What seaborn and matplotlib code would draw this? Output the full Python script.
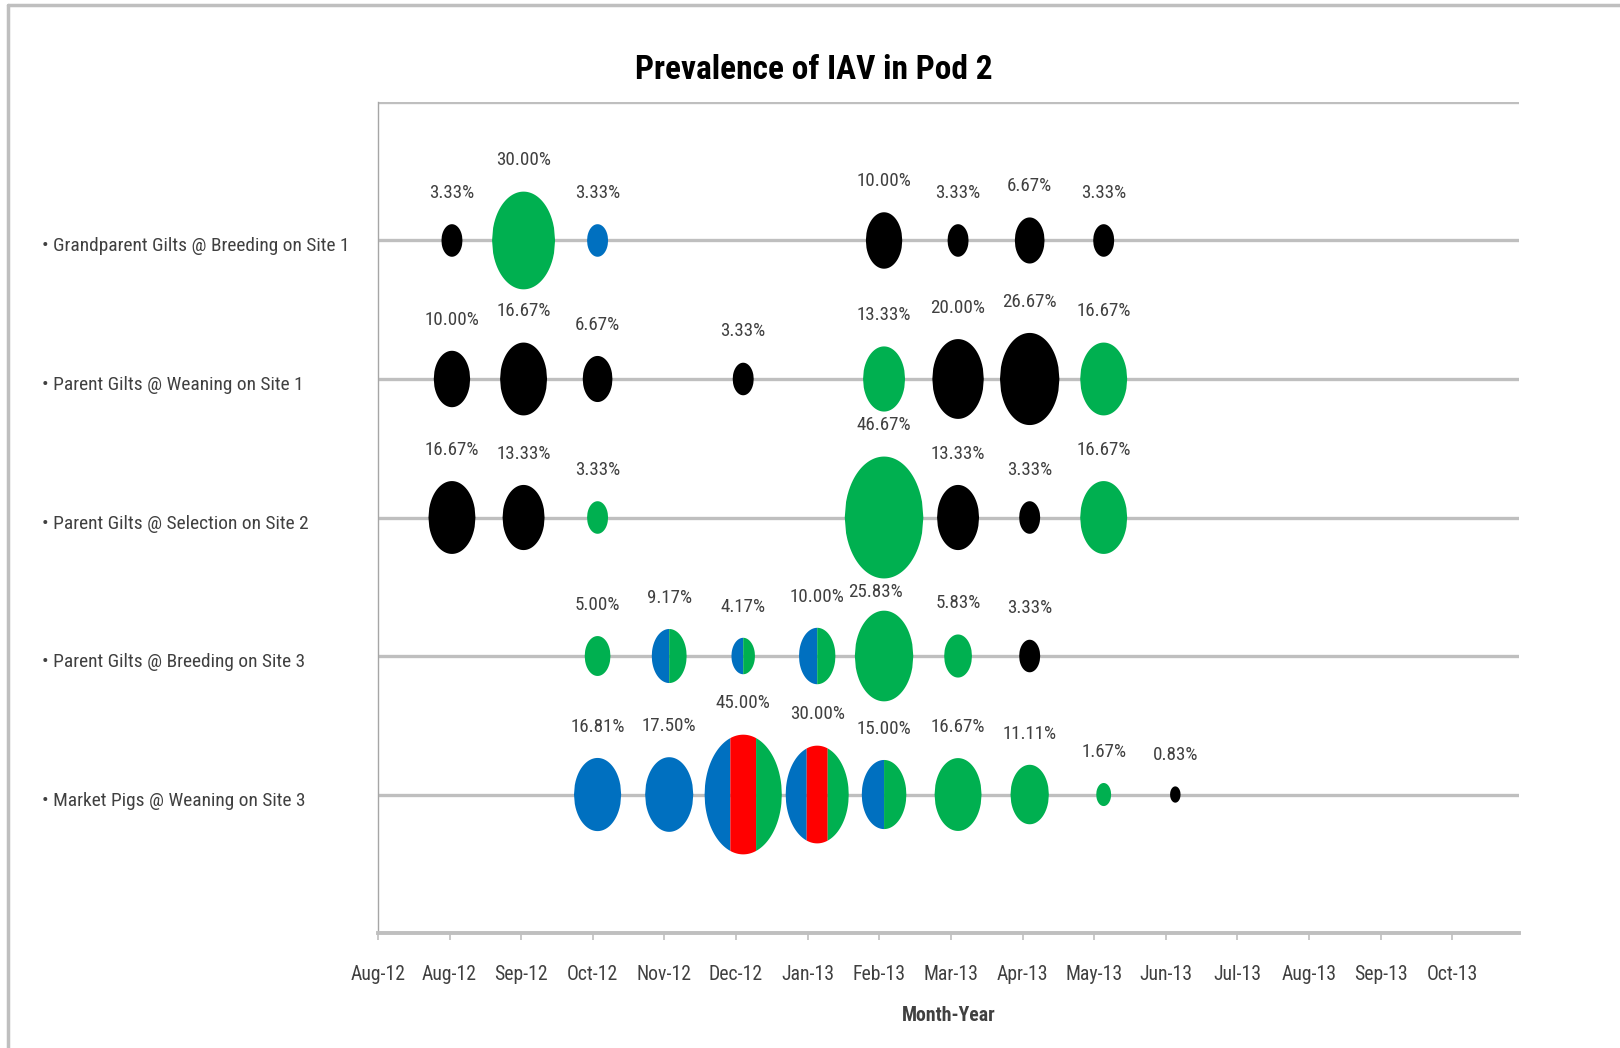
import matplotlib
matplotlib.use('Agg')
import matplotlib.pyplot as plt
import matplotlib.dates as mdates
import matplotlib.transforms as mtransforms
from matplotlib import font_manager
from matplotlib.markers import MarkerStyle
from matplotlib.path import Path
from matplotlib.lines import Line2D
import seaborn as sns
import pandas as pd
import numpy as np

# rows, top to bottom
row_names = ['Grandparent Gilts @ Breeding on Site 1',
             'Parent Gilts @ Weaning on Site 1',
             'Parent Gilts @ Selection on Site 2',
             'Parent Gilts @ Breeding on Site 3',
             'Market Pigs @ Weaning on Site 3']

# sampling dates (first of month), prevalence (%), colour code per bubble
# k = black, g = green, b = blue, r = red ; several letters = split bubble
gp_b1_dates = ['2012-09-01', '2012-10-01', '2012-11-01', '2013-03-01', '2013-04-01', '2013-05-01', '2013-06-01']
gp_b1_prev = [3.33, 30.00, 3.33, 10.00, 3.33, 6.67, 3.33]
gp_b1_col = ['k', 'g', 'b', 'k', 'k', 'k', 'k']

p_w1_dates = ['2012-09-01', '2012-10-01', '2012-11-01', '2013-01-01', '2013-03-01', '2013-04-01', '2013-05-01', '2013-06-01']
p_w1_prev = [10.00, 16.67, 6.67, 3.33, 13.33, 20.00, 26.67, 16.67]
p_w1_col = ['k', 'k', 'k', 'k', 'g', 'k', 'k', 'g']

p_s2_dates = ['2012-09-01', '2012-10-01', '2012-11-01', '2013-03-01', '2013-04-01', '2013-05-01', '2013-06-01']
p_s2_prev = [16.67, 13.33, 3.33, 46.67, 13.33, 3.33, 16.67]
p_s2_col = ['k', 'k', 'g', 'g', 'k', 'k', 'g']

p_b3_dates = ['2012-11-01', '2012-12-01', '2013-01-01', '2013-02-01', '2013-03-01', '2013-04-01', '2013-05-01']
p_b3_prev = [5.00, 9.17, 4.17, 10.00, 25.83, 5.83, 3.33]
p_b3_col = ['g', 'bg', 'bg', 'bg', 'g', 'g', 'k']

mp_w3_dates = ['2012-11-01', '2012-12-01', '2013-01-01', '2013-02-01', '2013-03-01', '2013-04-01', '2013-05-01', '2013-06-01', '2013-07-01']
mp_w3_prev = [16.81, 17.50, 45.00, 30.00, 15.00, 16.67, 11.11, 1.67, 0.83]
mp_w3_col = ['b', 'b', 'brg', 'brg', 'bg', 'g', 'g', 'g', 'k']

palette = {'k': '#000000', 'g': '#00B050', 'b': '#0070C0', 'r': '#FF0000'}

rows = [(5, gp_b1_dates, gp_b1_prev, gp_b1_col),
        (4, p_w1_dates, p_w1_prev, p_w1_col),
        (3, p_s2_dates, p_s2_prev, p_s2_col),
        (2, p_b3_dates, p_b3_prev, p_b3_col),
        (1, mp_w3_dates, mp_w3_prev, mp_w3_col)]

recs = []
for y, d, p, c in rows:
    for di, pi, ci in zip(d, p, c):
        recs.append({'date': pd.Timestamp(di), 'row': y, 'prev': pi, 'code': ci})
df = pd.DataFrame(recs)

# bubble area proportional to prevalence
S_PER_PCT = 165.0
df['s'] = df['prev'] * S_PER_PCT

ASPECT = 0.645  # bubbles look taller than wide


def strip_path(n, i):
    a = ASPECT
    x0 = -a + 2 * a * i / n
    x1 = -a + 2 * a * (i + 1) / n
    xs = np.linspace(x0, x1, 60)
    top = np.sqrt(np.clip(1 - (xs / a) ** 2, 0, None))
    verts = np.concatenate([np.column_stack([xs, top]),
                            np.column_stack([xs[::-1], -top[::-1]]),
                            [[xs[0], top[0]]]])
    codes = [Path.MOVETO] + [Path.LINETO] * (len(verts) - 2) + [Path.CLOSEPOLY]
    r = np.max(np.abs(verts))
    return Path(verts, codes), r


sns.set_theme(style='white')

# pick a narrow face if one is installed, else shrink the regular one
fonts = [(f.name, str(f.stretch)) for f in font_manager.fontManager.ttflist]
names = {n for n, _ in fonts}
stretch = 'normal'
if 'Liberation Sans Narrow' in names:
    family, fs = ['Liberation Sans Narrow', 'DejaVu Sans'], 1.0
elif 'Roboto Condensed' in names:
    family, fs = ['Roboto Condensed', 'DejaVu Sans'], 0.98
elif ('DejaVu Sans', 'condensed') in fonts or ('DejaVu Sans', 'semi-condensed') in fonts:
    family, fs, stretch = ['DejaVu Sans'], 0.8, 'condensed'
else:
    family, fs = ['Liberation Sans', 'DejaVu Sans'], 0.86
plt.rcParams['font.family'] = family
plt.rcParams['font.stretch'] = stretch

txt_col = '#404040'
grid_col = '#BFBFBF'

fig, ax = plt.subplots(figsize=(16.2, 10.48), dpi=100)
fig.subplots_adjust(left=0.2333, right=0.9377, top=0.9027, bottom=0.1097)

for code in df['code'].unique():
    sub = df[df['code'] == code]
    n = len(code)
    for i, letter in enumerate(code):
        path, r = strip_path(n, i)
        sns.scatterplot(data=sub, x='date', y='row', s=sub['s'].values * r ** 2,
                        marker=MarkerStyle(path), color=palette[letter],
                        edgecolor='none', linewidth=0, legend=False, ax=ax, zorder=3)

# labels above bubbles; one label was moved by hand in the original
nudge = {(2, '2013-03-01'): (-6, -9)}
for _, rw in df.iterrows():
    ms = np.sqrt(rw['s'])
    dx, dy = nudge.get((rw['row'], rw['date'].strftime('%Y-%m-%d')), (0, 0))
    ax.annotate(f"{rw['prev']:.2f}%", (mdates.date2num(rw['date']), rw['row']),
                xytext=(dx, ms / 2 + 22.5 + dy), textcoords='offset points',
                ha='center', va='center', fontsize=14 * fs, color=txt_col, zorder=4)

start = pd.Timestamp('2012-08-01')
tick_dates = [start + pd.Timedelta(days=30 * k) for k in range(16)]
ax.set_xlim(start, start + pd.Timedelta(days=478))
ax.set_xticks(tick_dates)
ax.set_xticklabels([t.strftime('%b-%y') for t in tick_dates], fontsize=14.5 * fs, color=txt_col)

ax.set_ylim(0, 6)
ax.set_yticks(range(7))
ax.set_yticklabels([''] + ['\u2022 ' + nm for nm in row_names[::-1]] + [''],
                   fontsize=14.2 * fs, color=txt_col, ha='left', va='center')
ax.tick_params(axis='y', length=0, pad=242)
ax.tick_params(axis='x', direction='out', length=5, width=1.2, color=grid_col, pad=18, bottom=True)
shift = mtransforms.ScaledTranslation(0, -6 / 100, fig.dpi_scale_trans)
for lab in ax.get_yticklabels():
    lab.set_transform(lab.get_transform() + shift)

ax.grid(axis='y', color=grid_col, linewidth=2.4)
ax.grid(axis='x', visible=False)
ax.set_axisbelow(True)

for side in ['top', 'right']:
    ax.spines[side].set_visible(False)
ax.spines['bottom'].set_color(grid_col)
ax.spines['bottom'].set_linewidth(2.8)
ax.spines['left'].set_color('#A6A6A6')
ax.spines['left'].set_linewidth(1.0)

ax.set_ylabel('')
ax.set_xlabel('Month-Year', fontsize=14.5 * fs, fontweight='bold', color=txt_col, labelpad=16)

fig.suptitle('Prevalence of IAV in Pod 2', x=0.5025, y=1 - 70 / 1048, va='center',
             fontsize=24.5 * fs, fontweight='bold', color='black')

# chart frame
fig.add_artist(Line2D([8 / 1620, 1.0], [1 - 5 / 1048, 1 - 5 / 1048], transform=fig.transFigure,
                      color='#BFBFBF', linewidth=2.5))
fig.add_artist(Line2D([8 / 1620, 8 / 1620], [0, 1 - 5 / 1048], transform=fig.transFigure,
                      color='#BFBFBF', linewidth=2.5))

fig.savefig('out.png', dpi=100, facecolor='white')
